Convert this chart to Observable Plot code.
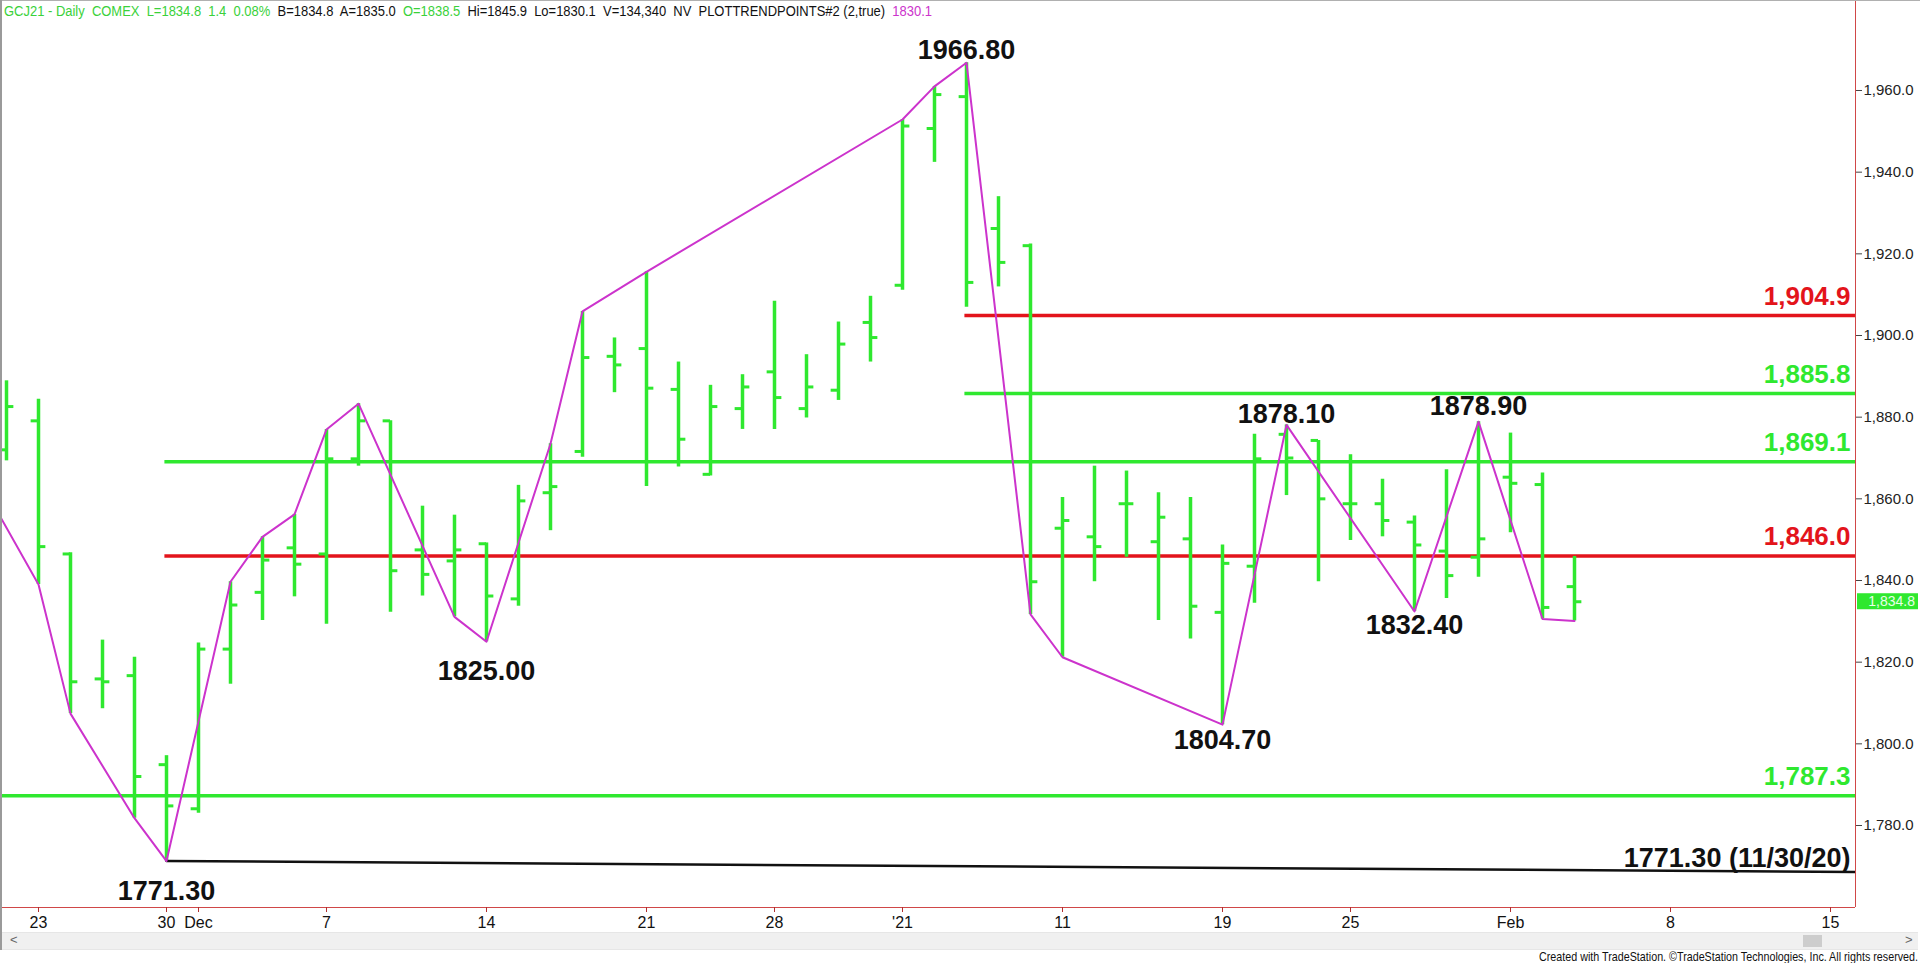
<!DOCTYPE html>
<html><head><meta charset="utf-8">
<script src="https://cdn.jsdelivr.net/npm/d3@7"></script>
<script src="https://cdn.jsdelivr.net/npm/@observablehq/plot@0.6"></script>
<style>
html,body{margin:0;padding:0;background:#fff;}
body{width:1920px;height:963px;overflow:hidden;position:relative;font-family:"Liberation Sans",Arial,sans-serif;}
#chart{position:absolute;left:0;top:0;}
#topline{position:absolute;left:0;top:0;width:1920px;height:1px;background:#b0b0b0;}
#lborder{position:absolute;left:0;top:0;width:2px;height:950px;background:#9a9a9a;}
#header{position:absolute;left:4px;top:3px;font-size:14px;white-space:pre;transform-origin:0 0;line-height:16px;color:#111;}
#header .g{color:#3ad13a;}
#header .m{color:#cc33cc;}
#scroll{position:absolute;left:2px;top:932px;width:1916px;height:16px;background:#f0f0f0;border-top:1px solid #e6e6e6;border-bottom:1px solid #e6e6e6;}
#thumb{position:absolute;left:1801px;top:2px;width:19px;height:12px;background:#cdcdcd;}
#sl{position:absolute;left:8px;top:-1px;font-size:13px;color:#666;}
#sr{position:absolute;left:1903px;top:-1px;font-size:13px;color:#666;}
#footer{position:absolute;left:1539px;top:950px;font-size:13px;white-space:pre;transform-origin:0 0;color:#111;line-height:14px;}
</style>
</head><body>
<div id="chart"></div>
<div id="topline"></div>
<div id="lborder"></div>
<div id="header"></div>
<div id="scroll"><div id="sl">&lt;</div><div id="thumb"></div><div id="sr">&gt;</div></div>
<div id="footer">Created with TradeStation. ©TradeStation Technologies, Inc. All rights reserved.</div>
<script>
// ---- data ----
const sessions = [
 "2020-11-19","2020-11-20","2020-11-23","2020-11-24","2020-11-25","2020-11-27","2020-11-30",
 "2020-12-01","2020-12-02","2020-12-03","2020-12-04","2020-12-07","2020-12-08","2020-12-09","2020-12-10","2020-12-11",
 "2020-12-14","2020-12-15","2020-12-16","2020-12-17","2020-12-18","2020-12-21","2020-12-22","2020-12-23","2020-12-24",
 "2020-12-28","2020-12-29","2020-12-30","2020-12-31",
 "2021-01-04","2021-01-05","2021-01-06","2021-01-07","2021-01-08","2021-01-11","2021-01-12","2021-01-13","2021-01-14","2021-01-15",
 "2021-01-19","2021-01-20","2021-01-21","2021-01-22","2021-01-25","2021-01-26","2021-01-27","2021-01-28","2021-01-29",
 "2021-02-01","2021-02-02","2021-02-03","2021-02-04","2021-02-05","2021-02-08","2021-02-09","2021-02-10","2021-02-11","2021-02-12",
 "2021-02-15","2021-02-16"
];
const barDates = sessions.slice(1, 51);
const opens  = [1872.0,1879.1,1846.5,1815.9,1816.7,1794.9,1784.1,1823.2,1837.1,1848.0,1846.5,1869.8,1879.1,1847.5,1844.8,1849.0,1835.5,1861.5,1871.6,1894.9,1896.8,1886.8,1866.0,1882.1,1891.1,1882.1,1886.6,1903.2,1912.3,1950.7,1958.5,1926.2,1922.0,1852.8,1850.7,1858.8,1849.5,1850.2,1832.2,1843.5,1875.8,1874.3,1858.8,1858.8,1854.3,1847.2,1845.7,1865.3,1863.5,1838.5];
const highs  = [1888.9,1884.4,1846.8,1825.4,1821.2,1797.1,1824.7,1839.7,1850.7,1856.2,1877.0,1883.3,1879.1,1858.2,1856.0,1849.2,1863.3,1873.5,1905.9,1899.4,1915.6,1893.5,1887.8,1890.4,1908.4,1895.3,1903.3,1909.6,1952.9,1961.0,1966.8,1934.0,1922.4,1860.3,1868.0,1866.8,1861.5,1860.3,1848.7,1875.8,1878.1,1874.3,1870.8,1864.8,1855.8,1867.1,1878.9,1876.1,1866.3,1845.9];
const lows   = [1869.3,1839.0,1807.4,1808.6,1781.8,1771.3,1783.0,1814.6,1830.2,1836.0,1829.3,1868.0,1832.2,1836.2,1831.1,1825.0,1833.7,1852.2,1870.2,1886.0,1863.0,1867.8,1865.6,1877.0,1877.0,1879.8,1884.1,1893.5,1911.1,1942.4,1906.9,1911.9,1831.7,1821.2,1839.7,1845.7,1830.2,1825.7,1804.7,1834.4,1860.8,1839.7,1849.8,1850.7,1832.4,1835.6,1840.8,1851.7,1830.6,1830.1];
const closes = [1882.6,1848.3,1815.2,1815.2,1792.0,1784.8,1823.2,1834.0,1845.0,1844.0,1869.8,1879.1,1842.4,1841.5,1847.5,1836.2,1859.5,1863.0,1894.6,1892.8,1887.1,1874.6,1882.6,1887.4,1884.8,1887.4,1897.9,1899.5,1951.3,1959.0,1913.0,1917.9,1839.7,1854.7,1848.3,1858.8,1855.5,1833.7,1844.2,1869.8,1870.0,1860.0,1858.8,1854.7,1848.7,1841.2,1850.2,1863.8,1833.4,1834.8];

// zigzag trend points (PLOTTRENDPOINTS)
const trendDates  = ["2020-11-19","2020-11-23","2020-11-24","2020-11-27","2020-11-30","2020-12-02","2020-12-03","2020-12-04","2020-12-07","2020-12-08","2020-12-11","2020-12-14","2020-12-16","2020-12-17","2020-12-21","2021-01-04","2021-01-05","2021-01-06","2021-01-08","2021-01-11","2021-01-19","2021-01-21","2021-01-27","2021-01-29","2021-02-02","2021-02-03"];
const trendValues = [1866.8,1839.0,1807.4,1781.8,1771.3,1839.7,1850.7,1856.2,1877.0,1883.3,1831.1,1825.0,1873.5,1905.9,1915.6,1952.9,1961.0,1966.8,1831.7,1821.2,1804.7,1878.1,1832.4,1878.9,1830.6,1830.1];

// swing labels
const swingDates  = ["2021-01-06","2020-12-14","2020-11-30","2021-01-19","2021-01-21","2021-01-27","2021-01-29"];
const swingValues = [1966.8,1825.0,1771.3,1804.7,1878.1,1832.4,1878.9];

// horizontal levels
const levelValues = [1904.9,1885.8,1869.1,1846.0,1787.3];
const levelStarts = ["2021-01-06","2021-01-06","2020-11-30","2020-11-30",null];
const levelKinds  = ["red","green","green","red","green"];

// long-term support trendline from the 11/30/20 low
const supportDates  = ["2020-11-30","2021-02-16"];
const supportValues = [1771.3,1768.6];
const supportLabel  = "1771.30 (11/30/20)";

// x-axis tick labels
const tickDates  = ["2020-11-23","2020-11-30","2020-12-01","2020-12-07","2020-12-14","2020-12-21","2020-12-28","2021-01-04","2021-01-11","2021-01-19","2021-01-25","2021-02-01","2021-02-08","2021-02-15"];
const tickLabels = ["23","30","Dec","7","14","21","28","'21","11","19","25","Feb","8","15"];
const yTicks = [1780,1800,1820,1840,1860,1880,1900,1920,1940,1960];

// quote header
const symbol = "GCJ21 - Daily  COMEX";
const bid = 1834.8, ask = 1835.0, volume = 134340;
const studyName = "PLOTTRENDPOINTS#2 (2,true)";

// ---- build ----
const idx = d => sessions.indexOf(d);
const bars = barDates.map((d,i)=>({i: idx(d), open: opens[i], high: highs[i], low: lows[i], close: closes[i]}));
const trend = trendDates.map((d,i)=>({i: idx(d), v: trendValues[i]}));
const swings = swingDates.map((d,i)=>({i: idx(d), v: swingValues[i], date: d}));
const support = supportDates.map((d,i)=>({i: idx(d), v: supportValues[i]}));

const xDomain = [0.8125, 58.78125];
const yDomain = [1759.92, 1982.04];
const levels = levelValues.map((v,i)=>({v, x1: levelStarts[i] ? idx(levelStarts[i]) - 0.05 : xDomain[0], kind: levelKinds[i]}));

const GREEN = "#2fe82f", RED = "#e3141b", MAG = "#cc33cc", BLK = "#111";
const colorOf = k => k === "red" ? RED : GREEN;
const swingDy = {"2021-01-06": -12, "2020-12-14": 30, "2020-11-30": 30, "2021-01-19": 16, "2021-01-21": -11, "2021-01-27": 14, "2021-01-29": -15};
const tickMap = new Map(tickDates.map((d,i)=>[idx(d), tickLabels[i]]));
const fmt1 = d3.format(",.1f");

const plot = Plot.plot({
  width: 1920, height: 931,
  marginTop: 0, marginLeft: 0, marginRight: 65, marginBottom: 24,
  x: {type: "linear", domain: xDomain},
  y: {type: "linear", domain: yDomain},
  style: {fontFamily: "'Liberation Sans', Arial, sans-serif", background: "transparent"},
  marks: [
    Plot.ruleY(levels, {y: "v", x1: "x1", x2: xDomain[1], stroke: d => colorOf(d.kind), strokeWidth: 3.5}),
    Plot.ruleX(bars, {x: "i", y1: "low", y2: "high", stroke: GREEN, strokeWidth: 3.5}),
    Plot.ruleY(bars, {y: "open", x1: d => d.i - 0.23, x2: d => d.i, stroke: GREEN, strokeWidth: 3}),
    Plot.ruleY(bars, {y: "close", x1: d => d.i, x2: d => d.i + 0.23, stroke: GREEN, strokeWidth: 3}),
    Plot.line(support, {x: "i", y: "v", stroke: BLK, strokeWidth: 2.5, clip: true}),
    Plot.line(trend, {x: "i", y: "v", stroke: MAG, strokeWidth: 2, clip: true}),
    Plot.text(levels, {x: xDomain[1], y: "v", text: d => fmt1(d.v), fill: d => colorOf(d.kind), textAnchor: "end", dx: -5, dy: -19, fontSize: 26, fontWeight: "bold"}),
    Plot.text([support[1]], {x: xDomain[1], y: d => support[0].v + (support[1].v - support[0].v) * (xDomain[1] - support[0].i) / (support[1].i - support[0].i), text: () => supportLabel, fill: BLK, textAnchor: "end", dx: -5, dy: -14, fontSize: 27, fontWeight: "bold"}),
    Plot.text(swings, {x: "i", y: "v", text: d => d.v.toFixed(2), fill: BLK, fontSize: 27, fontWeight: "bold", className: "swing"}),
    Plot.ruleY([yDomain[0]], {stroke: "#d04848", strokeWidth: 1}),
    Plot.ruleX([xDomain[1]], {stroke: "#d04848", strokeWidth: 1}),
    Plot.axisX({ticks: [...tickMap.keys()], tickFormat: d => tickMap.get(d), tickSize: 5, tickPadding: 4, fontSize: 16, stroke: "#b03030", fill: "#111"}),
    Plot.axisY({anchor: "right", ticks: yTicks, tickFormat: fmt1, tickSize: 6, tickPadding: 2, fontSize: 15, stroke: "#444", fill: "#222"})
  ]
});
document.getElementById("chart").appendChild(plot);

const ys = plot.scale("y");
const svg = d3.select(plot);
// per-label vertical offsets for swing labels (above highs, below lows)
svg.selectAll("g.swing text").each(function(){
  const s = swings.find(s => s.v.toFixed(2) === this.textContent);
  if (!s) return;
  const t = this.getAttribute("transform") || "";
  d3.select(this).attr("transform", t + ` translate(0,${swingDy[s.date]})`);
});

// last price marker on the price axis
const last = bars[bars.length-1];
const yl = ys.apply(last.close);
svg.append("rect").attr("x", 1857).attr("y", yl - 8).attr("width", 61).attr("height", 16).attr("fill", GREEN);
svg.append("text").attr("x", 1915).attr("y", yl).attr("dy", "0.35em").attr("text-anchor", "end").attr("fill", "#e9ffe9").attr("font-size", 14).attr("font-family", "'Liberation Sans', Arial, sans-serif").text(fmt1(last.close));

// header quote line
const prev = bars[bars.length-2];
const chg = last.close - prev.close;
const hdr = document.getElementById("header");
hdr.innerHTML = `<span class="g">${symbol}  L=${last.close.toFixed(1)}  ${chg.toFixed(1)}  ${(chg/prev.close*100).toFixed(2)}%</span>  B=${bid.toFixed(1)}  A=${ask.toFixed(1)}  <span class="g">O=${last.open.toFixed(1)}</span>  Hi=${last.high.toFixed(1)}  Lo=${last.low.toFixed(1)}  V=${d3.format(",")(volume)}  NV  ${studyName}  <span class="m">${trendValues[trendValues.length-1].toFixed(1)}</span>`;
const hw = hdr.getBoundingClientRect().width;
hdr.style.transform = `scaleX(${928/hw})`;
const ft = document.getElementById("footer");
const fw = ft.getBoundingClientRect().width;
ft.style.transform = `scaleX(${379/fw})`;
</script>
</body></html>
